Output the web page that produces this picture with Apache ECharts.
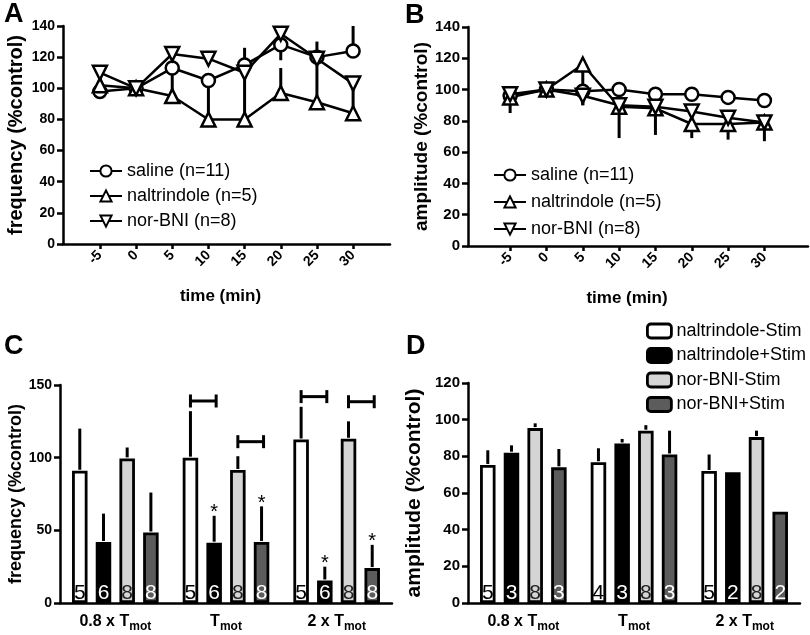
<!DOCTYPE html>
<html>
<head>
<meta charset="utf-8">
<script src="https://cdn.jsdelivr.net/npm/echarts@6/dist/echarts.min.js"></script>
<style>html,body{margin:0;padding:0;background:#fff}#c{width:810px;height:635px}</style>
</head>
<body>
<div id="c"></div>
<script>
// ---------- data ----------
const timePoints = [-5, 0, 5, 10, 15, 20, 25, 30];
const lineNames = ['saline (n=11)', 'naltrindole (n=5)', 'nor-BNI (n=8)'];

// Panel A: frequency (%control)
const freqSaline = [98, 100, 113, 105, 115, 128, 120, 124];
const freqNaltrindole = [102, 100, 95, 80, 80, 97, 91, 84];
const freqNorBNI = [110, 100, 122, 119, 110, 135, 119, 103];
// signed SEM (positive = drawn upward, negative = drawn downward, 0 = none)
const freqSalineErr = [0, 0, 0, -24, 11, -10, 10, 16];
const freqNaltrindoleErr = [0, 0, 25, 0, 30, 16, 29, 19];
const freqNorBNIErr = [3, 0, 0, 0, 0, 4, 0, 0];

// Panel B: amplitude (%control)
const ampSaline = [96, 100, 99, 100, 97, 97, 95, 93];
const ampNaltrindole = [95, 100, 116, 89, 88, 78, 78, 79];
const ampNorBNI = [97, 100, 96, 90, 89, 86, 82, 79];
const ampSalineErr = [0, 0, 0, 0, 0, 0, 0, 0];
const ampNaltrindoleErr = [-10, 0, -26, -20, -17, -9, -10, -12];
const ampNorBNIErr = [0, 0, -6, 0, 0, 0, 0, 0];

// Panels C & D
const stimCategories = ['0.8 x Tmot', 'Tmot', '2 x Tmot'];
const barNames = ['naltrindole-Stim', 'naltrindole+Stim', 'nor-BNI-Stim', 'nor-BNI+Stim'];

const freqNalMinus = [91, 100, 112.5];
const freqNalPlus = [42, 41.5, 15.5];
const freqNorMinus = [99.5, 91.5, 113];
const freqNorPlus = [48.5, 42, 24];
const freqNalMinusErr = [29, 32, 22.5];
const freqNalPlusErr = [19.5, 18.5, 9.5];
const freqNorMinusErr = [7.5, 9.5, 12];
const freqNorPlusErr = [27.5, 24.5, 16];
const freqNalMinusN = [5, 5, 5];
const freqNalPlusN = [6, 6, 6];
const freqNorMinusN = [8, 8, 8];
const freqNorPlusN = [8, 8, 8];
// significance stars: [category index, bar index]
const freqStars = [[1, 1], [1, 3], [2, 1], [2, 3]];
// brackets: [category index, left bar index, height]
const freqBrackets = [[1, 0, 139], [1, 2, 111], [2, 0, 142], [2, 2, 138.5]];

const ampNalMinus = [75.3, 76.8, 72];
const ampNalPlus = [82, 87, 71.3];
const ampNorMinus = [95.4, 94, 90.5];
const ampNorPlus = [74, 81, 49.8];
const ampNalMinusErr = [8, 7.6, 9];
const ampNalPlusErr = [4, 2.5, 0];
const ampNorMinusErr = [2.6, 3, 3.5];
const ampNorPlusErr = [10, 13, 0];
const ampNalMinusN = [5, 4, 5];
const ampNalPlusN = [3, 3, 2];
const ampNorMinusN = [8, 8, 8];
const ampNorPlusN = [3, 3, 2];

// ---------- styling helpers ----------
const FONT = 'Liberation Sans';
const BAR_W = 15.5;
const BAR_GAP_PX = 8.2;
const STEP = BAR_W + BAR_GAP_PX;
const barFill = ['#ffffff', '#000000', '#d5d5d5', '#5c5c5c'];
const barLabelColor = ['#000', '#fff', '#222', '#fff'];

const axisLineStyle = { color: '#000', width: 2.5 };
function tickLabel(size) { return { color: '#000', fontSize: size, fontWeight: 'bold', fontFamily: FONT }; }
function axisName(size, shiftLeft) {
  return { color: '#000', fontSize: size, fontWeight: 'bold', fontFamily: FONT, padding: [0, shiftLeft * 2, 0, 0] };
}

function timeXAxis(grid, min, max, shiftLeft) {
  return {
    gridIndex: grid, type: 'value', min: min, max: max,
    name: 'time (min)', nameLocation: 'middle', nameGap: 44, nameTextStyle: axisName(17, shiftLeft),
    axisLine: { onZero: false, lineStyle: axisLineStyle },
    axisTick: { show: true, customValues: timePoints, length: 5, lineStyle: axisLineStyle },
    axisLabel: Object.assign({ customValues: timePoints, rotate: 45, margin: 9 }, tickLabel(14)),
    splitLine: { show: false }
  };
}
function valueYAxis(grid, max, interval, name, gap, nameSize, labelSize) {
  return {
    gridIndex: grid, type: 'value', min: 0, max: max, interval: interval,
    name: name, nameLocation: 'middle', nameGap: gap, nameTextStyle: axisName(nameSize, 0),
    axisLine: { show: true, onZero: false, lineStyle: axisLineStyle },
    axisTick: { show: true, length: 6, lineStyle: axisLineStyle },
    axisLabel: Object.assign({ margin: 8 }, tickLabel(labelSize)),
    splitLine: { show: false }
  };
}
function catXAxis(grid) {
  return {
    gridIndex: grid, type: 'category', data: stimCategories,
    axisLine: { onZero: false, lineStyle: axisLineStyle },
    axisTick: { alignWithLabel: true, length: 6, lineStyle: axisLineStyle },
    axisLabel: {
      margin: 7, interval: 0, hideOverlap: false,
      formatter: function (v) {
        const base = v.slice(0, v.length - 3);
        return '{m|' + base + '}{s|mot}';
      },
      rich: {
        m: { fontSize: 16, fontWeight: 'bold', color: '#000', fontFamily: FONT },
        s: { fontSize: 12, fontWeight: 'bold', color: '#000', fontFamily: FONT, padding: [11, 0, 0, 0] }
      }
    },
    splitLine: { show: false }
  };
}

const symbols = [
  { symbol: 'circle', size: 13, rotate: 0 },
  { symbol: 'triangle', size: 14, rotate: 0 },
  { symbol: 'triangle', size: 14, rotate: 180 }
];

function lineSeries(grid, name, values, k) {
  return {
    type: 'line', name: name, xAxisIndex: grid, yAxisIndex: grid,
    data: timePoints.map((t, i) => [t, values[i]]),
    symbol: symbols[k].symbol, symbolSize: symbols[k].size, symbolRotate: symbols[k].rotate,
    showAllSymbol: true,
    lineStyle: { color: '#000', width: 2.5 },
    itemStyle: { color: '#fff', borderColor: '#000', borderWidth: 2.5 },
    z: 3
  };
}
function lineErrSeries(grid, values, errs) {
  const data = [];
  timePoints.forEach((t, i) => { if (errs[i] !== 0) data.push([t, values[i], errs[i]]); });
  return {
    type: 'custom', xAxisIndex: grid, yAxisIndex: grid, data: data, z: 2, silent: true,
    renderItem: function (params, api) {
      const p = api.coord([api.value(0), api.value(1)]);
      const q = api.coord([api.value(0), api.value(1) + api.value(2)]);
      return { type: 'line', shape: { x1: p[0], y1: p[1], x2: q[0], y2: q[1] }, style: { stroke: '#000', lineWidth: 3 } };
    }
  };
}

function barSeries(grid, k, values, nLabels) {
  return {
    type: 'bar', name: barNames[k], xAxisIndex: grid, yAxisIndex: grid,
    data: values, barWidth: BAR_W, barGap: (BAR_GAP_PX / BAR_W * 100) + '%',
    itemStyle: { color: barFill[k], borderColor: '#000', borderWidth: 2.8 },
    label: {
      show: true, position: 'insideBottom', distance: -1,
      formatter: function (p) { return String(nLabels[p.dataIndex]); },
      color: barLabelColor[k], fontSize: 21, fontFamily: FONT
    },
    z: 2
  };
}
function barErrSeries(grid, valueArrays, errArrays) {
  const data = [];
  valueArrays.forEach((vals, b) => {
    vals.forEach((v, c) => { if (errArrays[b][c] > 0) data.push([c, v, errArrays[b][c], b]); });
  });
  return {
    type: 'custom', xAxisIndex: grid, yAxisIndex: grid, data: data, z: 4, silent: true,
    renderItem: function (params, api) {
      const p = api.coord([api.value(0), api.value(1)]);
      const q = api.coord([api.value(0), api.value(1) + api.value(2)]);
      const x = p[0] + (api.value(3) - 1.5) * STEP;
      return { type: 'line', shape: { x1: x, y1: p[1] - 1, x2: x, y2: q[1] }, style: { stroke: '#000', lineWidth: 3 } };
    }
  };
}
function starSeries(grid, stars, valueArrays, errArrays) {
  const data = stars.map(s => [s[0], valueArrays[s[1]][s[0]] + errArrays[s[1]][s[0]], s[1]]);
  return {
    type: 'custom', xAxisIndex: grid, yAxisIndex: grid, data: data, z: 5, silent: true,
    renderItem: function (params, api) {
      const p = api.coord([api.value(0), api.value(1)]);
      const x = p[0] + (api.value(2) - 1.5) * STEP;
      return { type: 'text', x: x, y: p[1] + 7, style: { text: '*', fill: '#000', fontSize: 20, fontFamily: FONT, align: 'center', verticalAlign: 'bottom' } };
    }
  };
}
function bracketSeries(grid, brackets) {
  return {
    type: 'custom', xAxisIndex: grid, yAxisIndex: grid, data: brackets, z: 5, silent: true,
    renderItem: function (params, api) {
      const p = api.coord([api.value(0), api.value(2)]);
      const x1 = p[0] + (api.value(1) - 1.5) * STEP;
      const x2 = x1 + STEP + 2;
      const y = p[1];
      return {
        type: 'group', children: [
          { type: 'line', shape: { x1: x1, y1: y, x2: x2, y2: y }, style: { stroke: '#000', lineWidth: 3 } },
          { type: 'line', shape: { x1: x1, y1: y - 6.5, x2: x1, y2: y + 6.5 }, style: { stroke: '#000', lineWidth: 3 } },
          { type: 'line', shape: { x1: x2, y1: y - 6.5, x2: x2, y2: y + 6.5 }, style: { stroke: '#000', lineWidth: 3 } }
        ]
      };
    }
  };
}

const freqBarVals = [freqNalMinus, freqNalPlus, freqNorMinus, freqNorPlus];
const freqBarErrs = [freqNalMinusErr, freqNalPlusErr, freqNorMinusErr, freqNorPlusErr];
const ampBarVals = [ampNalMinus, ampNalPlus, ampNorMinus, ampNorPlus];
const ampBarErrs = [ampNalMinusErr, ampNalPlusErr, ampNorMinusErr, ampNorPlusErr];

const legendText = { color: '#000', fontSize: 18, fontFamily: FONT };

const option = {
  animation: false,
  backgroundColor: '#fff',
  textStyle: { fontFamily: FONT },
  grid: [
    { left: 63, top: 26, width: 327, height: 218 },
    { left: 468, top: 27, width: 340, height: 219 },
    { left: 60, top: 385, width: 332, height: 218 },
    { left: 468, top: 383, width: 332, height: 220 }
  ],
  xAxis: [
    timeXAxis(0, -10.1, 35.1, 6),
    timeXAxis(1, -10.8, 36, 11),
    catXAxis(2),
    catXAxis(3)
  ],
  yAxis: [
    valueYAxis(0, 140, 20, 'frequency (%control)', 37, 20, 14),
    valueYAxis(1, 140, 20, 'amplitude (%control)', 35, 19, 15),
    valueYAxis(2, 150, 50, 'frequency (%control)', 33, 18, 14),
    valueYAxis(3, 120, 20, 'amplitude (%control)', 43, 21, 15)
  ],
  legend: [
    { data: lineNames, orient: 'vertical', left: 84, top: 157, itemWidth: 32, itemHeight: 14, itemGap: 7, itemTextGap: 7, textStyle: legendText, selectedMode: false },
    { data: lineNames, orient: 'vertical', left: 488, top: 161, itemWidth: 32, itemHeight: 14, itemGap: 9, itemTextGap: 10, textStyle: legendText, selectedMode: false },
    { data: barNames, orient: 'vertical', left: 641, top: 317, itemWidth: 24, itemHeight: 14, itemGap: 6.5, itemTextGap: 13, textStyle: legendText, selectedMode: false,
      itemStyle: { borderColor: '#000', borderWidth: 2.8 } }
  ],
  graphic: [
    { type: 'text', left: 4, top: 1, style: { text: 'A', fontSize: 27, fontWeight: 'bold', fontFamily: FONT, fill: '#000' } },
    { type: 'text', left: 405, top: 2, style: { text: 'B', fontSize: 27, fontWeight: 'bold', fontFamily: FONT, fill: '#000' } },
    { type: 'text', left: 4, top: 333, style: { text: 'C', fontSize: 27, fontWeight: 'bold', fontFamily: FONT, fill: '#000' } },
    { type: 'text', left: 406, top: 333, style: { text: 'D', fontSize: 27, fontWeight: 'bold', fontFamily: FONT, fill: '#000' } }
  ],
  series: [
    lineErrSeries(0, freqSaline, freqSalineErr),
    lineErrSeries(0, freqNaltrindole, freqNaltrindoleErr),
    lineErrSeries(0, freqNorBNI, freqNorBNIErr),
    lineSeries(0, lineNames[0], freqSaline, 0),
    lineSeries(0, lineNames[1], freqNaltrindole, 1),
    lineSeries(0, lineNames[2], freqNorBNI, 2),
    lineErrSeries(1, ampSaline, ampSalineErr),
    lineErrSeries(1, ampNaltrindole, ampNaltrindoleErr),
    lineErrSeries(1, ampNorBNI, ampNorBNIErr),
    lineSeries(1, lineNames[0], ampSaline, 0),
    lineSeries(1, lineNames[1], ampNaltrindole, 1),
    lineSeries(1, lineNames[2], ampNorBNI, 2),
    barSeries(2, 0, freqNalMinus, freqNalMinusN),
    barSeries(2, 1, freqNalPlus, freqNalPlusN),
    barSeries(2, 2, freqNorMinus, freqNorMinusN),
    barSeries(2, 3, freqNorPlus, freqNorPlusN),
    barErrSeries(2, freqBarVals, freqBarErrs),
    starSeries(2, freqStars, freqBarVals, freqBarErrs),
    bracketSeries(2, freqBrackets),
    barSeries(3, 0, ampNalMinus, ampNalMinusN),
    barSeries(3, 1, ampNalPlus, ampNalPlusN),
    barSeries(3, 2, ampNorMinus, ampNorMinusN),
    barSeries(3, 3, ampNorPlus, ampNorPlusN),
    barErrSeries(3, ampBarVals, ampBarErrs)
  ]
};

const chart = echarts.init(document.getElementById('c'), null, { renderer: 'canvas' });
chart.setOption(option);
</script>
</body>
</html>
